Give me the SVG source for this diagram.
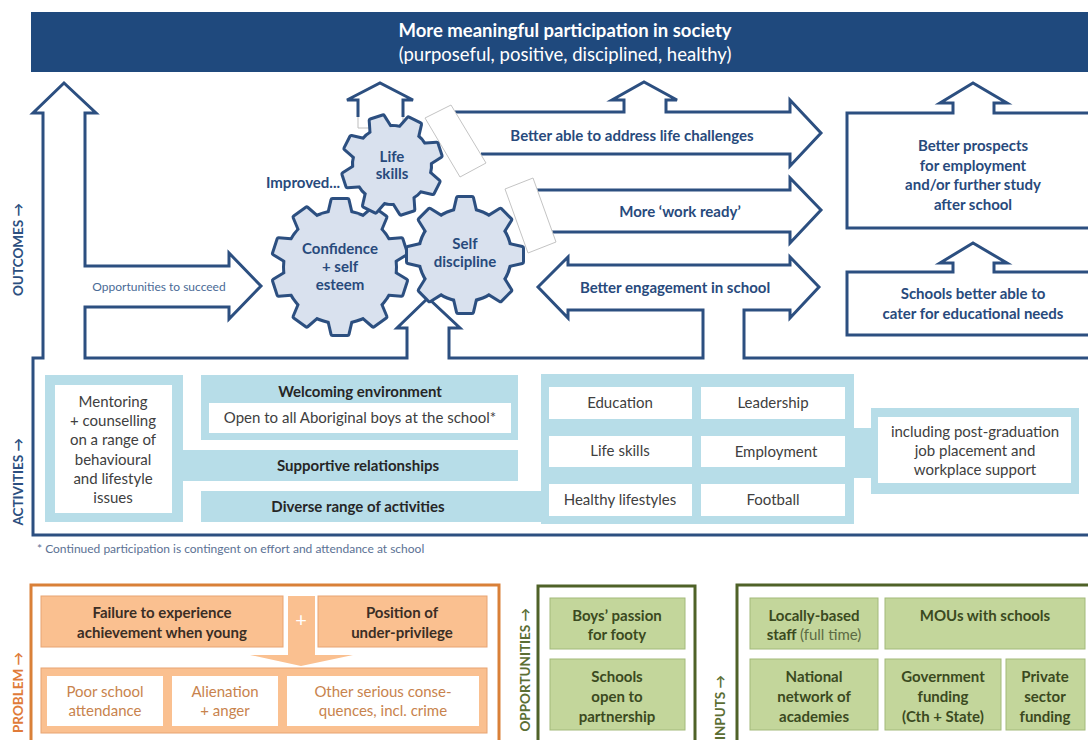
<svg xmlns="http://www.w3.org/2000/svg" width="1088" height="740" viewBox="0 0 1088 740">
<style>
text{font-family:Lato,"Liberation Sans",sans-serif}
.ol{fill:none;stroke:#2c4f80;stroke-width:3}
.gray{fill:none;stroke:#bdbdbd;stroke-width:1}
.skew{fill:#fff;stroke:#c4c4c4;stroke-width:1}
.nv{fill:#284a7c;font-weight:bold;font-size:15px;text-anchor:middle}
.gs{fill:#d9e1ee;stroke:#2c4f80;stroke-width:6;stroke-linejoin:round}
.gf{fill:#d9e1ee;stroke:none}
.lb{fill:#b7dde8}
.wb{fill:#fff}
.at{fill:#404040;font-size:15px;text-anchor:middle}
.atb{fill:#262626;font-size:15px;font-weight:bold;text-anchor:middle}
.lab{font-size:13.5px;font-weight:bold;text-anchor:end}
.ob{fill:#fac090;stroke:#e8a472;stroke-width:1}
.obt{fill:#3b2e25;font-size:15px;font-weight:bold;text-anchor:middle}
.owt{fill:#c8834d;font-size:15px;text-anchor:middle}
.gb{fill:#c3d69b;stroke:#a3ba7a;stroke-width:1}
.gbt{fill:#3b4a1f;font-size:15px;font-weight:bold;text-anchor:middle}
</style>
<defs>
<g id="g-life-shape">
<circle r="38"/>
<polygon id="t-life" points="-10,-35 -6.5,-49 6.5,-49 10,-35"/>
<use href="#t-life" transform="rotate(45)"/><use href="#t-life" transform="rotate(90)"/><use href="#t-life" transform="rotate(135)"/><use href="#t-life" transform="rotate(180)"/><use href="#t-life" transform="rotate(225)"/><use href="#t-life" transform="rotate(270)"/><use href="#t-life" transform="rotate(315)"/>
</g>
<g id="g-conf-shape">
<circle r="55"/>
<polygon id="t-conf" points="-11,-52 -7.5,-67 7.5,-67 11,-52"/>
<use href="#t-conf" transform="rotate(36)"/><use href="#t-conf" transform="rotate(72)"/><use href="#t-conf" transform="rotate(108)"/><use href="#t-conf" transform="rotate(144)"/><use href="#t-conf" transform="rotate(180)"/><use href="#t-conf" transform="rotate(216)"/><use href="#t-conf" transform="rotate(252)"/><use href="#t-conf" transform="rotate(288)"/><use href="#t-conf" transform="rotate(324)"/>
</g>
<g id="g-self-shape">
<circle r="45"/>
<polygon id="t-self" points="-10.5,-42 -7,-57 7,-57 10.5,-42"/>
<use href="#t-self" transform="rotate(45)"/><use href="#t-self" transform="rotate(90)"/><use href="#t-self" transform="rotate(135)"/><use href="#t-self" transform="rotate(180)"/><use href="#t-self" transform="rotate(225)"/><use href="#t-self" transform="rotate(270)"/><use href="#t-self" transform="rotate(315)"/>
</g>
</defs>
<rect width="1088" height="740" fill="#fff"/>

<g id="banner">
<rect x="31" y="12" width="1057" height="60" fill="#1f497d"/>
<text x="565" y="37" fill="#fff" font-size="18.5" font-weight="bold" text-anchor="middle">More meaningful participation in society</text>
<text x="565" y="61" fill="#fff" font-size="18.5" text-anchor="middle">(purposeful, positive, disciplined, healthy)</text>
</g>

<g id="connectors">
<path class="ol" d="M1088,535 H33 V358 H43 V113 H33 L64,83 L96,113 H85 V266 H229 V253 L261,286 L229,319 V307 H85 V358 H407 V328 H397 L428,298 L460,328 H449 V358 H703 V310 H568 V318 L538,287 L568,257 V265 H790 V257 L819,287 L790,318 V310 H744 V358 H1088"/>
<path class="ol" d="M455,112 H624 V100 H612 L644,82 L677,100 H666 V112 H790 V100 L821,133 L790,166 V154 H481"/>
<path class="ol" d="M537,190 H790 V178 L821,210 L790,243 V232 H552"/>
<path class="ol" d="M358,117 V100 H347 L380,83 L413,100 H403 V117"/>
<path class="gray" d="M358,117 V128 H403 V117"/>
<polygon class="skew" points="425,118 451,105 486,163 460,177"/>
<polygon class="skew" points="505,189 533,178 556,242 528,253"/>
</g>

<g id="label-outcomes"><text class="lab" fill="#2c4f80" transform="translate(23,203) rotate(-90)">OUTCOMES →</text></g>
<g id="label-activities"><text class="lab" fill="#2c4f80" transform="translate(23,438) rotate(-90)">ACTIVITIES →</text></g>

<g id="opportunities-arrow-label"><text x="159" y="291" fill="#4a6a96" font-size="12" text-anchor="middle">Opportunities to succeed</text></g>
<g id="life-challenges"><text class="nv" x="632" y="141">Better able to address life challenges</text></g>
<g id="work-ready"><text class="nv" x="680" y="217">More ‘work ready’</text></g>
<g id="engagement"><text class="nv" x="675" y="293">Better engagement in school</text></g>

<g id="prospects">
<path class="ol" d="M1090,113 H994 V103 H1007 L973,83 L940,103 H953 V113 H847 V228 H1090"/>
<text class="nv"><tspan x="973" y="151">Better prospects</tspan><tspan x="973" y="171">for employment</tspan><tspan x="973" y="190">and/or further study</tspan><tspan x="973" y="210">after school</tspan></text>
</g>
<g id="schools-better">
<path class="ol" d="M1090,272 H994 V263 H1007 L973,243 L940,263 H953 V272 H847 V335 H1090"/>
<text class="nv"><tspan x="973" y="299">Schools better able to</tspan><tspan x="973" y="319">cater for educational needs</tspan></text>
</g>

<g id="gear-confidence">
<g transform="translate(340,267)"><use href="#g-conf-shape" class="gs"/><use href="#g-conf-shape" class="gf"/></g>
<text class="nv"><tspan x="340" y="254">Confidence</tspan><tspan x="340" y="272">+ self</tspan><tspan x="340" y="290">esteem</tspan></text>
</g>
<g id="gear-self">
<g transform="translate(465,255)"><use href="#g-self-shape" class="gs"/><use href="#g-self-shape" class="gf"/></g>
<text class="nv"><tspan x="465" y="249">Self</tspan><tspan x="465" y="267">discipline</tspan></text>
</g>
<g id="gear-life">
<g transform="translate(392,165) rotate(-18)"><use href="#g-life-shape" class="gs"/><use href="#g-life-shape" class="gf"/></g>
<text class="nv"><tspan x="392" y="162">Life</tspan><tspan x="392" y="179">skills</tspan></text>
</g>
<g id="improved"><text class="nv" x="303" y="188">Improved...</text></g>

<g id="mentoring">
<rect class="lb" x="45" y="375" width="138" height="147"/>
<rect class="lb" x="182" y="450" width="336" height="31"/>
<rect class="wb" x="55" y="385" width="117" height="128"/>
<text class="at"><tspan x="113" y="407">Mentoring</tspan><tspan x="113" y="426">+ counselling</tspan><tspan x="113" y="445">on a range of</tspan><tspan x="113" y="465">behavioural</tspan><tspan x="113" y="484">and lifestyle</tspan><tspan x="113" y="503">issues</tspan></text>
<text class="atb" x="358" y="471">Supportive relationships</text>
</g>
<g id="welcoming">
<rect class="lb" x="201" y="375" width="317" height="65"/>
<rect class="wb" x="209" y="403" width="302" height="30"/>
<text class="atb" x="360" y="397">Welcoming environment</text>
<text class="at" x="360" y="423">Open to all Aboriginal boys at the school*</text>
</g>
<g id="diverse">
<rect class="lb" x="201" y="491" width="342" height="31"/>
<text class="atb" x="358" y="512">Diverse range of activities</text>
</g>
<g id="activity-types">
<rect class="lb" x="541" y="374" width="313" height="150"/>
<rect class="lb" x="852" y="428" width="22" height="50"/>
<rect class="wb" x="549" y="387" width="143" height="32"/>
<rect class="wb" x="701" y="387" width="144" height="32"/>
<rect class="wb" x="549" y="436" width="143" height="31"/>
<rect class="wb" x="701" y="436" width="144" height="31"/>
<rect class="wb" x="549" y="484" width="143" height="32"/>
<rect class="wb" x="701" y="484" width="144" height="32"/>
<text class="at" x="620" y="408">Education</text>
<text class="at" x="773" y="408">Leadership</text>
<text class="at" x="620" y="456">Life skills</text>
<text class="at" x="776" y="457">Employment</text>
<text class="at" x="620" y="505">Healthy lifestyles</text>
<text class="at" x="773" y="505">Football</text>
</g>
<g id="including">
<rect class="lb" x="871" y="408" width="208" height="86"/>
<rect class="wb" x="878" y="417" width="193" height="66"/>
<text class="at"><tspan x="975" y="437">including post-graduation</tspan><tspan x="975" y="456">job placement and</tspan><tspan x="975" y="475">workplace support</tspan></text>
</g>
<g id="footnote"><text x="37" y="553" fill="#5b7194" font-size="12">* Continued participation is contingent on effort and attendance at school</text></g>

<g id="problem">
<rect x="31" y="585" width="468" height="200" fill="none" stroke="#d98038" stroke-width="3"/>
<text class="lab" fill="#e07b39" transform="translate(23,652) rotate(-90)">PROBLEM →</text>
<path d="M288,596 H315 V655 H353 L301,666 L250,655 H288 Z" fill="#fac090"/>
<text x="301" y="627" fill="#fff" font-size="20" text-anchor="middle">+</text>
<rect class="ob" x="41" y="596" width="242" height="51"/>
<text class="obt"><tspan x="162" y="618">Failure to experience</tspan><tspan x="162" y="638">achievement when young</tspan></text>
<rect class="ob" x="318" y="596" width="169" height="51"/>
<text class="obt"><tspan x="402" y="618">Position of</tspan><tspan x="402" y="638">under-privilege</tspan></text>
<rect class="ob" x="41" y="668" width="446" height="65"/>
<rect class="wb" x="47" y="676" width="116" height="50"/>
<rect class="wb" x="172" y="676" width="106" height="50"/>
<rect class="wb" x="287" y="676" width="192" height="50"/>
<text class="owt"><tspan x="105" y="697">Poor school</tspan><tspan x="105" y="716">attendance</tspan></text>
<text class="owt"><tspan x="225" y="697">Alienation</tspan><tspan x="225" y="716">+ anger</tspan></text>
<text class="owt"><tspan x="383" y="697">Other serious conse-</tspan><tspan x="383" y="716">quences, incl. crime</tspan></text>
</g>

<g id="opportunities">
<rect x="538" y="586" width="157" height="200" fill="none" stroke="#4f6228" stroke-width="3"/>
<text class="lab" fill="#5b6e34" transform="translate(530,608) rotate(-90)">OPPORTUNITIES →</text>
<rect class="gb" x="550" y="598" width="135" height="51"/>
<text class="gbt"><tspan x="617" y="621">Boys’ passion</tspan><tspan x="617" y="640">for footy</tspan></text>
<rect class="gb" x="550" y="659" width="135" height="71"/>
<text class="gbt"><tspan x="617" y="682">Schools</tspan><tspan x="617" y="702">open to</tspan><tspan x="617" y="722">partnership</tspan></text>
</g>

<g id="inputs">
<rect x="737" y="585" width="400" height="200" fill="none" stroke="#4f6228" stroke-width="3"/>
<text class="lab" fill="#5b6e34" transform="translate(725,675) rotate(-90)">INPUTS →</text>
<rect class="gb" x="750" y="598" width="128" height="51"/>
<text class="gbt"><tspan x="814" y="621">Locally-based</tspan><tspan x="814" y="640">staff <tspan font-weight="normal" fill="#5c6b43">(full time)</tspan></tspan></text>
<rect class="gb" x="885" y="598" width="200" height="51"/>
<text class="gbt" x="985" y="621">MOUs with schools</text>
<rect class="gb" x="750" y="659" width="128" height="71"/>
<text class="gbt"><tspan x="814" y="682">National</tspan><tspan x="814" y="702">network of</tspan><tspan x="814" y="722">academies</tspan></text>
<rect class="gb" x="885" y="659" width="116" height="71"/>
<text class="gbt"><tspan x="943" y="682">Government</tspan><tspan x="943" y="702">funding</tspan><tspan x="943" y="722">(Cth + State)</tspan></text>
<rect class="gb" x="1006" y="659" width="79" height="71"/>
<text class="gbt"><tspan x="1045" y="682">Private</tspan><tspan x="1045" y="702">sector</tspan><tspan x="1045" y="722">funding</tspan></text>
</g>
</svg>
